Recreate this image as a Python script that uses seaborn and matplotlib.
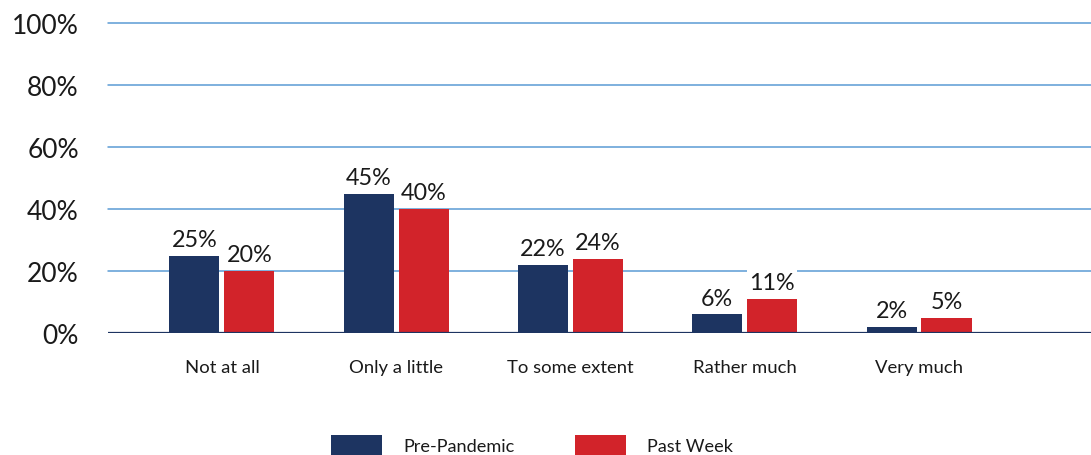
import matplotlib
matplotlib.use("Agg")
import matplotlib.pyplot as plt
import seaborn as sns
import pandas as pd
from matplotlib.patches import Patch

categories = ["Not at all", "Only a little", "To some extent", "Rather much", "Very much"]
series_names = ["Pre-Pandemic", "Past Week"]
pre_pandemic = [25, 45, 22, 6, 2]
past_week = [20, 40, 24, 11, 5]
y_ticks = [0, 20, 40, 60, 80, 100]

NAVY = "#1d3461"
RED = "#d2232a"
GRID = "#5b9bd5"

sns.set_theme(style="white")
plt.rcParams["font.family"] = ["Lato", "DejaVu Sans"]

df = pd.DataFrame({
    "category": categories * 2,
    "series": [series_names[0]] * len(categories) + [series_names[1]] * len(categories),
    "value": pre_pandemic + past_week,
})

fig = plt.figure(figsize=(10.91, 4.56), dpi=100)
ax = fig.add_axes([108 / 1091, 122 / 456, 1 - 108 / 1091, 310 / 456])

sns.barplot(data=df, x="category", y="value", hue="series",
            order=categories, hue_order=series_names,
            palette=[NAVY, RED], width=0.631, gap=0.09,
            saturation=1, legend=False, linewidth=0, edgecolor="none",
            ax=ax, zorder=3)

ax.set_ylim(0, 100)
ax.set_xlim(-0.654, 4.987)
ax.set_yticks(y_ticks)
ax.set_yticklabels([f"{t}%" for t in y_ticks], fontsize=19, color="#1a1a1a")
ax.tick_params(axis="y", length=0, pad=21)
ax.tick_params(axis="x", length=0, pad=19, labelsize=13.3, labelcolor="#1a1a1a")
ax.set_xlabel("")
ax.set_ylabel("")

for t in y_ticks[1:]:
    ax.axhline(t, color=GRID, lw=1.1, zorder=1, clip_on=False)
ax.axhline(0, color=NAVY, lw=1.6, zorder=4)

for s in ax.spines.values():
    s.set_visible(False)

for cont, vals in zip(ax.containers, [pre_pandemic, past_week]):
    ax.bar_label(cont, labels=[f"{v}%" for v in vals], padding=4,
                 fontsize=16.8, color="#1a1a1a",
                 bbox=dict(facecolor="white", edgecolor="none", pad=1.5),
                 zorder=5)

handles = [Patch(facecolor=NAVY, edgecolor="none"), Patch(facecolor=RED, edgecolor="none")]
fig.legend(handles, series_names, loc="center",
           bbox_to_anchor=(532 / 1091, 10 / 456), ncol=2, frameon=False,
           fontsize=13.1, handlelength=2.8, handleheight=1.3,
           handletextpad=1.2, columnspacing=3.3, labelcolor="#1a1a1a")

fig.savefig("out.png", dpi=100)
